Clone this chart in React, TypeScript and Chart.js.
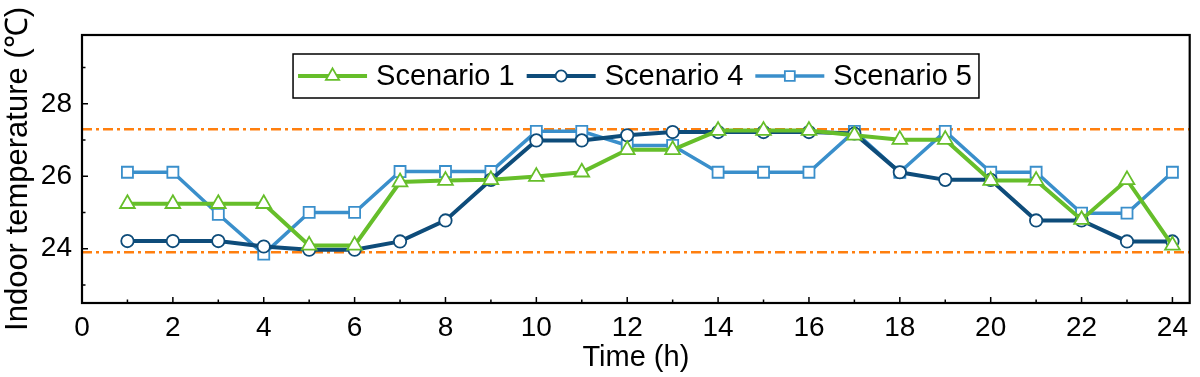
import React, { useEffect, useRef } from "react";
import { Chart, registerables } from "chart.js";

Chart.register(...registerables);

// ---- data ----
const hours = [1, 2, 3, 4, 5, 6, 7, 8, 9, 10, 11, 12, 13, 14, 15, 16, 17, 18, 19, 20, 21, 22, 23, 24];
const scenario1 = [25.24, 25.24, 25.24, 25.24, 24.09, 24.09, 25.84, 25.88, 25.9, 25.99, 26.11, 26.73, 26.73, 27.26, 27.26, 27.26, 27.13, 27.01, 27.01, 25.88, 25.88, 24.8, 25.9, 24.09];
const scenario4 = [24.21, 24.21, 24.21, 24.06, 23.97, 23.97, 24.2, 24.78, 25.9, 26.99, 26.99, 27.13, 27.22, 27.22, 27.22, 27.22, 27.18, 26.11, 25.9, 25.9, 24.78, 24.78, 24.2, 24.2];
const scenario5 = [26.11, 26.11, 24.95, 23.85, 25.0, 25.0, 26.13, 26.13, 26.13, 27.24, 27.24, 26.85, 26.85, 26.11, 26.11, 26.11, 27.24, 26.11, 27.24, 26.11, 26.11, 24.98, 24.98, 26.11];
const upperLimit = 27.3;
const lowerLimit = 23.9;
const seriesLabels = ["Scenario 1", "Scenario 4", "Scenario 5"];
const xTickValues = [0, 1, 2, 3, 4, 5, 6, 7, 8, 9, 10, 11, 12, 13, 14, 15, 16, 17, 18, 19, 20, 21, 22, 23, 24];
const xTickLabels = ["0", "2", "4", "6", "8", "10", "12", "14", "16", "18", "20", "22", "24"];
const yTickValues = [23, 24, 25, 26, 27, 28, 29];
const yTickLabels = ["24", "26", "28"];
const xTitle = "Time (h)";
const yTitle = "Indoor temperature (℃)";

const X_MIN = 0;
const X_MAX = 24.38;
const Y_MIN = 22.5;
const Y_MAX = 29.9;

const GREEN = "#66BE2A";
const DARK = "#0E4C7A";
const LIGHT = "#3A8FCB";
const ORANGE = "#FF7F0E";
const FONT = "'Liberation Sans', Arial, sans-serif";

function drawMarker(ctx: CanvasRenderingContext2D, style: string, x: number, y: number, r: number, color: string, bw: number) {
  ctx.save();
  ctx.beginPath();
  if (style === "triangle") {
    let rad = 0;
    ctx.moveTo(x + Math.sin(rad) * r, y - Math.cos(rad) * r);
    rad += (2 * Math.PI) / 3;
    ctx.lineTo(x + Math.sin(rad) * r, y - Math.cos(rad) * r);
    rad += (2 * Math.PI) / 3;
    ctx.lineTo(x + Math.sin(rad) * r, y - Math.cos(rad) * r);
    ctx.closePath();
  } else if (style === "rect") {
    const s = Math.SQRT1_2 * r;
    ctx.rect(x - s, y - s, 2 * s, 2 * s);
  } else {
    ctx.arc(x, y, r, 0, Math.PI * 2);
  }
  ctx.fillStyle = "#fff";
  ctx.fill();
  ctx.strokeStyle = color;
  ctx.lineWidth = bw;
  ctx.stroke();
  ctx.restore();
}

const framePlugin = {
  id: "frameTicks",
  afterDatasetsDraw(chart: any) {
    const { ctx, chartArea: ca } = chart;
    const xs = chart.scales.x;
    const ys = chart.scales.y;
    ctx.save();
    ctx.strokeStyle = "#000";
    ctx.lineWidth = 1.5;
    ctx.beginPath();
    xs.ticks.forEach((t: any) => {
      const px = xs.getPixelForValue(t.value);
      const major = t.value % 2 === 0;
      ctx.moveTo(px, ca.bottom);
      ctx.lineTo(px, ca.bottom - (major ? 6 : 3.5));
    });
    ys.ticks.forEach((t: any) => {
      const py = ys.getPixelForValue(t.value);
      const major = t.value % 2 === 0;
      ctx.moveTo(ca.left, py);
      ctx.lineTo(ca.left + (major ? 6 : 3.5), py);
    });
    ctx.stroke();
    ctx.lineWidth = 2.2;
    ctx.strokeRect(ca.left, ca.top, ca.right - ca.left, ca.bottom - ca.top);
    ctx.restore();
  },
};

const legendPlugin = {
  id: "boxLegend",
  afterDatasetsDraw(chart: any) {
    const { ctx, chartArea: ca } = chart;
    const ds = chart.data.datasets.slice(0, 3);
    ctx.save();
    ctx.font = `29px ${FONT}`;
    const lineLen = 69;
    const textGap = 9;
    const itemGap = 12;
    const padL = 5;
    const padR = 7;
    const widths = ds.map((d: any) => ctx.measureText(d.label).width);
    let total = padL + padR;
    widths.forEach((w: number, i: number) => {
      total += lineLen + textGap + w + (i < widths.length - 1 ? itemGap : 0);
    });
    const boxTop = ca.top + 19;
    const boxH = 44;
    const boxLeft = ca.left + 554 - total / 2;
    ctx.fillStyle = "#fff";
    ctx.fillRect(boxLeft, boxTop, total, boxH);
    ctx.strokeStyle = "#000";
    ctx.lineWidth = 1.5;
    ctx.strokeRect(boxLeft, boxTop, total, boxH);
    const cy = boxTop + boxH / 2;
    let x = boxLeft + padL;
    ds.forEach((d: any, i: number) => {
      ctx.strokeStyle = d.borderColor;
      ctx.lineWidth = d.borderWidth;
      ctx.beginPath();
      ctx.moveTo(x, cy);
      ctx.lineTo(x + lineLen, cy);
      ctx.stroke();
      drawMarker(ctx, d.pointStyle, x + lineLen / 2, cy, d.pointRadius * 0.9, d.borderColor, d.pointBorderWidth);
      ctx.fillStyle = "#000";
      ctx.textBaseline = "middle";
      ctx.textAlign = "left";
      ctx.fillText(d.label, x + lineLen + textGap, cy + 1);
      x += lineLen + textGap + widths[i] + itemGap;
    });
    ctx.restore();
  },
};

function series(values: number[]) {
  return hours.map((h, i) => ({ x: h, y: values[i] }));
}

export default function App() {
  const ref = useRef<HTMLCanvasElement>(null);
  useEffect(() => {
    if (!ref.current) return;
    const mk = (label: string, values: number[], color: string, style: string, r: number, bw: number) => ({
      label,
      data: series(values),
      borderColor: color,
      borderWidth: bw,
      pointStyle: style,
      pointRadius: r,
      pointBackgroundColor: "#fff",
      pointBorderColor: color,
      pointBorderWidth: 1.8,
      tension: 0,
      fill: false,
    });
    const chart = new Chart(ref.current, {
      type: "line",
      data: {
        datasets: [
          mk(seriesLabels[0], scenario1, GREEN, "triangle", 8.5, 4),
          mk(seriesLabels[1], scenario4, DARK, "circle", 6.2, 4),
          mk(seriesLabels[2], scenario5, LIGHT, "rect", 7.8, 3.5),
          {
            label: "upper",
            data: [{ x: X_MIN, y: upperLimit }, { x: X_MAX, y: upperLimit }],
            borderColor: ORANGE,
            borderWidth: 2.5,
            borderDash: [10, 4, 3, 4],
            pointRadius: 0,
          },
          {
            label: "lower",
            data: [{ x: X_MIN, y: lowerLimit }, { x: X_MAX, y: lowerLimit }],
            borderColor: ORANGE,
            borderWidth: 2.5,
            borderDash: [10, 4, 3, 4],
            pointRadius: 0,
          },
        ] as any,
      },
      options: {
        animation: false,
        responsive: false,
        maintainAspectRatio: false,
        layout: { padding: { top: 35, right: 3, left: 0, bottom: 0 } },
        plugins: { legend: { display: false }, tooltip: { enabled: false } },
        scales: {
          x: {
            type: "linear",
            min: X_MIN,
            max: X_MAX,
            grid: { display: false, drawTicks: false },
            border: { display: false },
            afterBuildTicks: (s: any) => {
              s.ticks = xTickValues.map((v) => ({ value: v }));
            },
            afterFit: (s: any) => {
              s.height = 74;
            },
            ticks: {
              autoSkip: false,
              maxRotation: 0,
              padding: 8,
              color: "#000",
              font: { family: FONT, size: 28 },
              callback: (v: any) => (Number(v) % 2 === 0 ? xTickLabels[Number(v) / 2] : ""),
            },
            title: {
              display: true,
              text: xTitle,
              color: "#000",
              font: { family: FONT, size: 29 },
              padding: { top: 0, bottom: 2 },
            },
          },
          y: {
            type: "linear",
            min: Y_MIN,
            max: Y_MAX,
            grid: { display: false, drawTicks: false },
            border: { display: false },
            afterBuildTicks: (s: any) => {
              s.ticks = yTickValues.map((v) => ({ value: v }));
            },
            afterFit: (s: any) => {
              s.width = 82;
            },
            ticks: {
              autoSkip: false,
              padding: 10,
              color: "#000",
              font: { family: FONT, size: 28 },
              callback: (v: any) => {
                const n = Number(v);
                return n % 2 === 0 ? yTickLabels[(n - 24) / 2] : "";
              },
            },
            title: {
              display: true,
              text: yTitle,
              color: "#000",
              font: { family: FONT, size: 31 },
              padding: { top: 0, bottom: 1 },
            },
          },
        },
      } as any,
      plugins: [framePlugin, legendPlugin],
    });
    return () => chart.destroy();
  }, []);
  return (
    <div style={{ position: "fixed", left: 0, top: 0, width: 1200, height: 377, background: "#fff" }}>
      <canvas ref={ref} width={1200} height={377} style={{ width: 1200, height: 377, display: "block" }} />
    </div>
  );
}
